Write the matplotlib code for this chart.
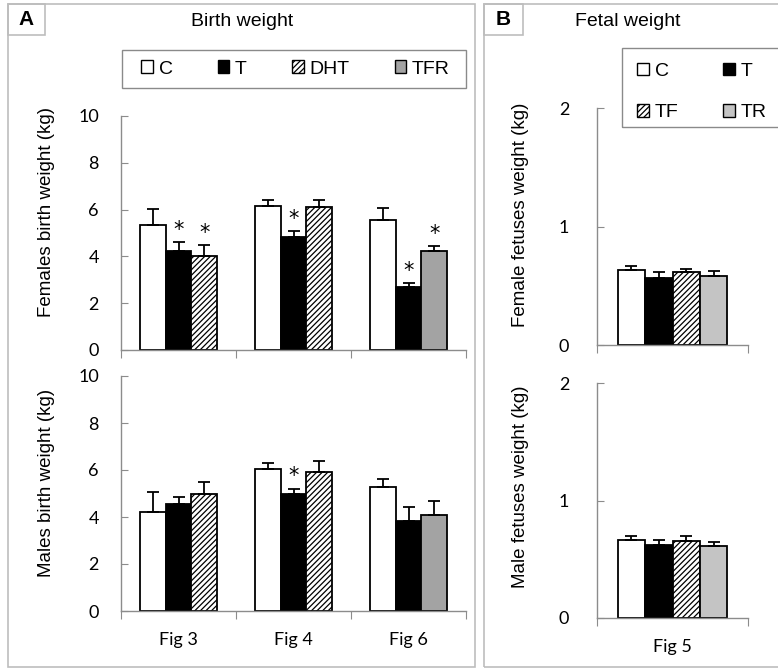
import numpy as np
import matplotlib
matplotlib.use('Agg')
import matplotlib.pyplot as plt
from matplotlib.patches import Rectangle, Patch

# data
groups_a = ['Fig 3', 'Fig 4', 'Fig 6']
fem_c = [5.34, 6.15, 5.55]
fem_c_err = [0.68, 0.25, 0.53]
fem_t = [4.23, 4.84, 2.70]
fem_t_err = [0.37, 0.24, 0.15]
fem_dht = [4.00, 6.12, np.nan]
fem_dht_err = [0.49, 0.28, 0]
fem_tfr = [np.nan, np.nan, 4.24]
fem_tfr_err = [0, 0, 0.20]
fem_star = {'T': [0, 1, 2], 'DHT': [0], 'TFR': [2]}

mal_c = [4.20, 6.04, 5.27]
mal_c_err = [0.88, 0.26, 0.36]
mal_t = [4.55, 4.98, 3.83]
mal_t_err = [0.28, 0.22, 0.60]
mal_dht = [4.96, 5.93, np.nan]
mal_dht_err = [0.51, 0.45, 0]
mal_tfr = [np.nan, np.nan, 4.07]
mal_tfr_err = [0, 0, 0.63]
mal_star = {'T': [1], 'DHT': [], 'TFR': []}

groups_b = ['Fig 5']
fet_labels = ['C', 'T', 'TF', 'TR']
fet_fem = [0.633, 0.565, 0.616, 0.585]
fet_fem_err = [0.034, 0.051, 0.028, 0.037]
fet_mal = [0.661, 0.621, 0.653, 0.610]
fet_mal_err = [0.034, 0.040, 0.042, 0.040]

W, H = 778, 670
fig = plt.figure(figsize=(W / 100, H / 100), dpi=100)
TICKF = 'Lato'
TXTF = 'Liberation Sans'
AXC = '#8c8c8c'
EDGE = 'black'

def box(x0, y0, x1, y1):
    # pixel box -> figure coords
    return [x0 / W, 1 - y1 / H, (x1 - x0) / W, (y1 - y0) / H]

styles = {
    'C': dict(color='white', hatch=None),
    'T': dict(color='black', hatch=None),
    'DHT': dict(color='white', hatch='//////'),
    'TF': dict(color='white', hatch='//////'),
    'TFR': dict(color='#a3a3a3', hatch=None),
    'TR': dict(color='#c4c4c4', hatch=None),
}

plt.rcParams['hatch.linewidth'] = 0.9

def draw_bar(ax, x, h, e, key, w):
    st = styles[key]
    ax.bar(x, h, w, color=st['color'], edgecolor=EDGE, linewidth=1.3,
           hatch=st['hatch'], zorder=2)
    ax.errorbar(x, h, yerr=[np.zeros(len(h)), e], fmt='none', ecolor='black',
                elinewidth=1.3, capsize=4, capthick=1.3, zorder=3)

def style_axes(ax, ymax, ystep, ncat):
    for s in ['top', 'right']:
        ax.spines[s].set_visible(False)
    for s in ['left', 'bottom']:
        ax.spines[s].set_color(AXC)
        ax.spines[s].set_linewidth(1.0)
    ax.set_ylim(0, ymax)
    ax.set_yticks(np.arange(0, ymax + 0.01, ystep))
    ax.tick_params(axis='y', direction='in', length=5, color=AXC, pad=16,
                   labelsize=13)
    ax.set_xlim(-0.5, ncat - 0.5)
    ax.set_xticks(np.arange(ncat + 1) - 0.5)
    ax.tick_params(axis='x', which='major', direction='out', length=6,
                   color=AXC, labelbottom=False)
    for lab in ax.get_yticklabels():
        lab.set_fontfamily(TICKF)

def set_ylab(ax, text, xa, ya):
    ax.set_ylabel(text, fontsize=13.5, family=TXTF)
    ax.yaxis.set_label_coords(xa, ya)

def panel_a(ax, c, ce, t, te, d, de, f, fe, stars, show_x):
    x = np.arange(len(groups_a))
    w = 0.226
    draw_bar(ax, x - w, c, ce, 'C', w)
    draw_bar(ax, x, t, te, 'T', w)
    draw_bar(ax, x + w, d, de, 'DHT', w)
    draw_bar(ax, x + w, f, fe, 'TFR', w)
    style_axes(ax, 10, 2, len(groups_a))
    tops = {'T': (np.array(t) + np.array(te), 0),
            'DHT': (np.array(d) + np.array(de), w),
            'TFR': (np.array(f) + np.array(fe), w)}
    for k, idx in stars.items():
        for i in idx:
            ax.text(x[i] + tops[k][1], tops[k][0][i] + 0.1, '*', ha='center',
                    va='bottom', fontsize=15, family='DejaVu Sans')
    if show_x:
        ax.set_xticks(x, minor=True)
        ax.set_xticklabels(groups_a, minor=True, fontsize=13, family=TICKF)
        ax.tick_params(axis='x', which='minor', length=0, pad=15)

def panel_b(ax, vals, errs, show_x):
    w = 0.182
    offs = (np.arange(len(fet_labels)) - 1.5) * w
    for i, k in enumerate(fet_labels):
        draw_bar(ax, [offs[i]], [vals[i]], [errs[i]], k, w)
    style_axes(ax, 2, 1, len(groups_b))
    ax.tick_params(axis='y', pad=20)
    if show_x:
        ax.set_xticks([0], minor=True)
        ax.set_xticklabels(groups_b, minor=True, fontsize=13, family=TICKF)
        ax.tick_params(axis='x', which='minor', length=0, pad=15)

ax1 = fig.add_axes(box(121, 116, 466, 350))
panel_a(ax1, fem_c, fem_c_err, fem_t, fem_t_err, fem_dht, fem_dht_err,
        fem_tfr, fem_tfr_err, fem_star, False)
set_ylab(ax1, 'Females birth weight (kg)', -0.191, 0.59)
ax2 = fig.add_axes(box(121, 376, 466, 611))
panel_a(ax2, mal_c, mal_c_err, mal_t, mal_t_err, mal_dht, mal_dht_err,
        mal_tfr, mal_tfr_err, mal_star, True)
set_ylab(ax2, 'Males birth weight (kg)', -0.191, 0.545)
ax3 = fig.add_axes(box(597, 108, 748, 345))
panel_b(ax3, fet_fem, fet_fem_err, False)
set_ylab(ax3, 'Female fetuses weight (kg)', -0.45, 0.55)
ax4 = fig.add_axes(box(597, 383, 748, 618))
panel_b(ax4, fet_mal, fet_mal_err, True)
set_ylab(ax4, 'Male fetuses weight (kg)', -0.45, 0.56)

def frame(x0, y0, x1, y1, col, lw=1.2):
    b = box(x0, y0, x1, y1)
    fig.add_artist(Rectangle((b[0], b[1]), b[2], b[3], transform=fig.transFigure,
                             fill=False, edgecolor=col, linewidth=lw))
    return b

# panel frames and letters
frame_c = '#bdbdbd'
frame(8, 4, 475, 667, frame_c)
frame(484, 4, 790, 667, frame_c)
for (x0, y0, x1, y1, s) in [(8, 4, 45, 35, 'A'), (484, 4, 523, 35, 'B')]:
    b = frame(x0, y0, x1, y1, frame_c)
    fig.text(b[0] + b[2] / 2, b[1] + b[3] / 2, s, ha='center', va='center',
             fontsize=15, fontweight='bold', family=TXTF)

fig.text(242 / W, 1 - 22 / H, 'Birth weight', ha='center', va='center',
         fontsize=14, family=TXTF)
fig.text(628 / W, 1 - 22 / H, 'Fetal weight', ha='center', va='center',
         fontsize=14, family=TXTF)

def handles(keys):
    return [Patch(facecolor=styles[k]['color'], edgecolor='black',
                  hatch=styles[k]['hatch'], linewidth=1.0, label=k) for k in keys]

# legend A
frame(122, 50, 466, 88, '#8a8a8a', 1.0)
la = box(141, 50, 450, 88)
fig.legend(handles=handles(['C', 'T', 'DHT', 'TFR']), loc='center',
           bbox_to_anchor=la, bbox_transform=fig.transFigure, ncol=4,
           mode='expand', frameon=False, prop={'family': TXTF, 'size': 14},
           handlelength=0.6, handleheight=0.6, handletextpad=0.3,
           borderaxespad=0, borderpad=0)
# legend B (runs off the right edge)
frame(622, 48, 800, 127, '#8a8a8a', 1.0)
fig.legend(handles=handles(['C', 'TF', 'T', 'TR']), loc='upper left',
           bbox_to_anchor=(637 / W, 1 - 63 / H), bbox_transform=fig.transFigure,
           ncol=2, frameon=False, prop={'family': TXTF, 'size': 14},
           handlelength=0.6, handleheight=0.6, handletextpad=0.3,
           borderaxespad=0, borderpad=0, labelspacing=1.25, columnspacing=2.3)

fig.savefig('out.png', dpi=100)
